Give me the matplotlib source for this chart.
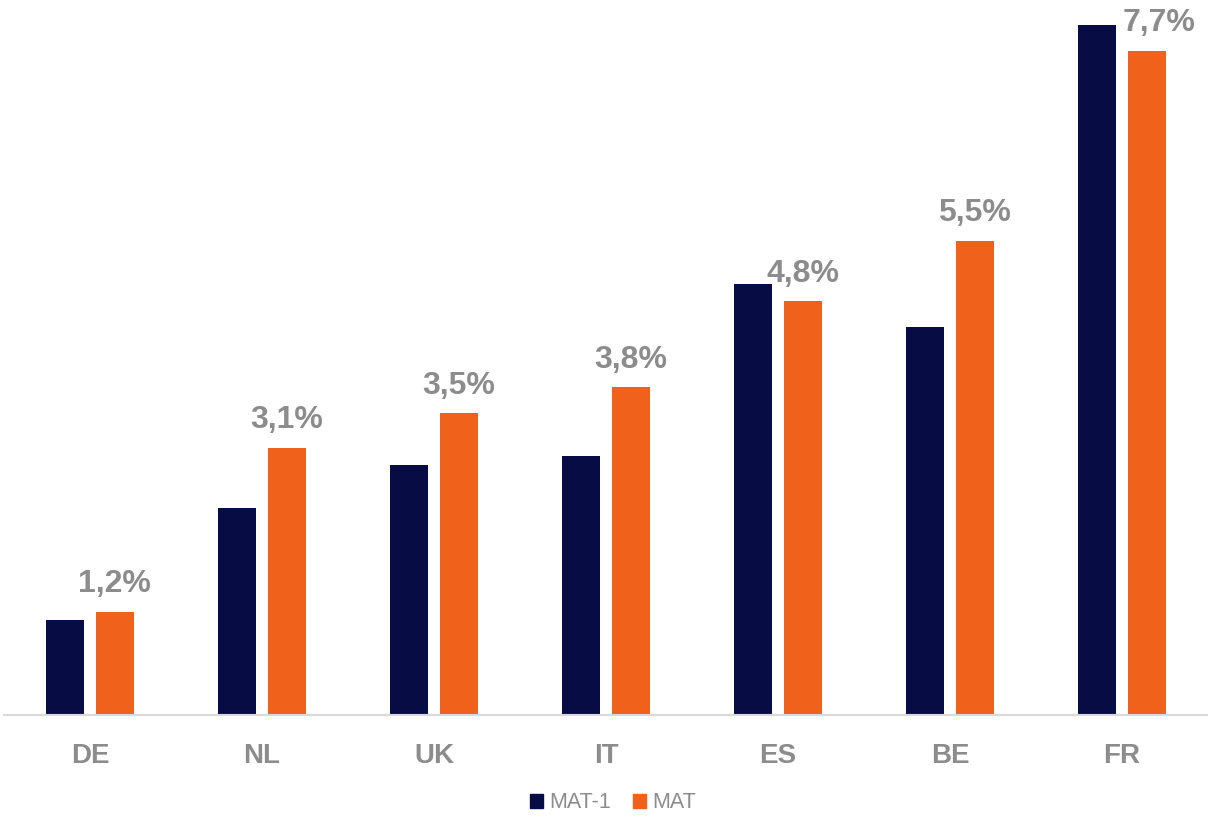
import matplotlib
matplotlib.use("Agg")
import matplotlib.pyplot as plt
import numpy as np
from matplotlib.patches import Patch

countries = ["DE", "NL", "UK", "IT", "ES", "BE", "FR"]
mat_prev = [1.1, 2.4, 2.9, 3.0, 5.0, 4.5, 8.0]
mat = [1.2, 3.1, 3.5, 3.8, 4.8, 5.5, 7.7]
mat_labels = ["1,2%", "3,1%", "3,5%", "3,8%", "4,8%", "5,5%", "7,7%"]

NAVY = "#070C45"
ORANGE = "#F0621C"
GREY = "#8C8C8C"

plt.rcParams["font.family"] = ["Liberation Sans", "DejaVu Sans"]

fig = plt.figure(figsize=(12.08, 8.17), dpi=100)
ax = fig.add_axes([4 / 1208, 102 / 817, 1204 / 1208, 715 / 817])

x = np.arange(len(countries))
w = 0.222
off = 0.143
ax.bar(x - off, mat_prev, width=w, color=NAVY, label="MAT-1")
bars = ax.bar(x + off, mat, width=w, color=ORANGE, label="MAT")

for i, (rect, lab) in enumerate(zip(bars, mat_labels)):
    # the last label is pushed a bit right, as in the original
    dx = 9 if i == len(bars) - 1 else 0
    ax.annotate(lab, (rect.get_x() + rect.get_width() / 2, rect.get_height()),
                xytext=(dx, 14), textcoords="offset points",
                ha="center", va="baseline", fontsize=23, fontweight="bold", color=GREY)

ax.set_xlim(-0.5, len(countries) - 0.5)
ax.set_ylim(0, 8.29)
ax.set_xticks(x)
ax.set_xticklabels(countries, fontsize=20, fontweight="bold", color=GREY)
ax.tick_params(axis="x", length=0, pad=20)
ax.set_yticks([])
for side in ["top", "right", "left"]:
    ax.spines[side].set_visible(False)
ax.spines["bottom"].set_color("#D9D9D9")
ax.spines["bottom"].set_linewidth(1.5)

handles = [Patch(color=NAVY, label="MAT-1"), Patch(color=ORANGE, label="MAT")]
leg = fig.legend(handles=handles, loc="center", bbox_to_anchor=(613 / 1208, 1 - 803 / 817),
                 ncol=2, frameon=False, fontsize=15.5, handlelength=0.6, handleheight=0.6,
                 handletextpad=0.3, columnspacing=1.0)
for t in leg.get_texts():
    t.set_color(GREY)

fig.savefig("out.png", dpi=100)
